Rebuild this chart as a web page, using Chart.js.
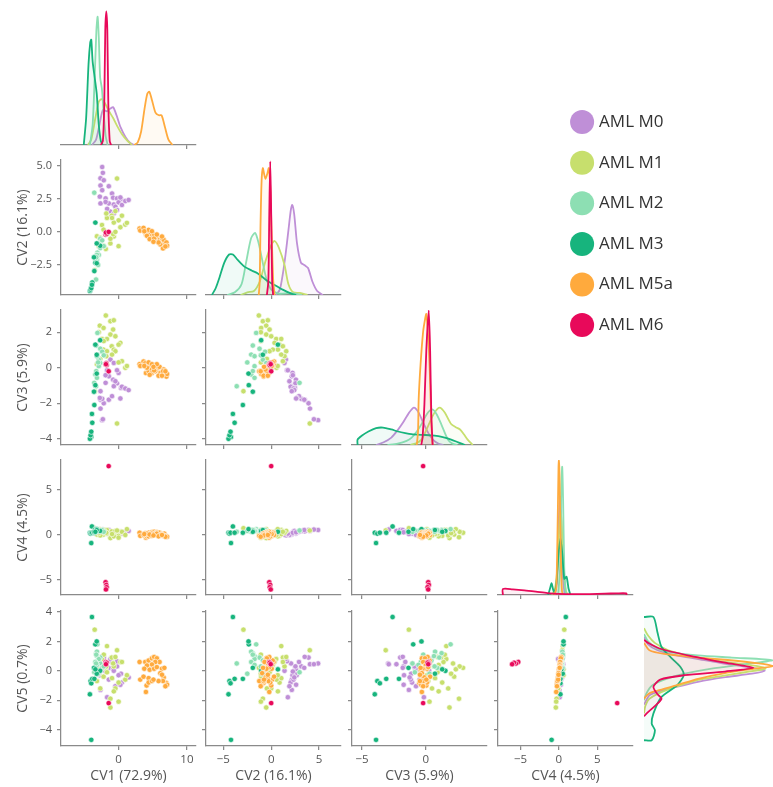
<!DOCTYPE html>
<html>
<head>
<meta charset="utf-8">
<script src="https://cdn.jsdelivr.net/npm/chart.js@4"></script>
<style>
  body { margin: 0; background: #fff; }
  #fig { position: relative; width: 773px; height: 787px; overflow: hidden; background: #fff; }
  #fig canvas { position: absolute; }
</style>
</head>
<body>
<div id="fig"></div>
<script>
const groups = ['AML M0', 'AML M1', 'AML M2', 'AML M3', 'AML M5a', 'AML M6'];
const colors = ['#bf8fd7', '#c7df6d', '#8ddfb3', '#17b47d', '#ffaa3d', '#e8095a'];
const varLabels = ['CV1 (72.9%)', 'CV2 (16.1%)', 'CV3 (5.9%)', 'CV4 (4.5%)', 'CV5 (0.7%)'];

// sample scores, one row per sample: [CV1, CV2, CV3, CV4, CV5]
const ptsM0 = [
  [-2.4, 4.9, -2.95, 0.5, 0.5], [-2.65, 4.05, -2.3, 0.4, 0.45], [-2.17, 3.9, -2.0, 0.5, 0.9],
  [-2.65, 3.5, -1.8, 0.35, 0.95], [-2.4, 3.15, -1.75, 0.4, 0.3], [-1.43, 3.45, -1.8, 0.5, 0.2],
  [-0.96, 2.9, -1.6, 0.3, 0.6], [-2.75, 2.66, -1.7, 0.25, -0.3], [-1.9, 2.53, -0.85, 0.3, 0.2],
  [-0.8, 2.58, -0.67, 0.1, 0.1], [-0.23, 2.53, -0.88, 0.2, 0.3], [0.35, 2.48, -1.14, 0.35, -0.2],
  [-1.43, 2.15, -0.48, 0.0, -0.6], [-0.7, 2.07, -1.04, 0.15, 0.5], [0.0, 2.23, -0.29, 0.2, -0.3],
  [0.49, 2.03, -1.07, 0.1, -0.8], [0.98, 2.33, -1.17, 0.3, -0.6], [1.47, 2.41, -1.26, 0.4, -0.45],
  [-2.65, 2.15, -1.32, 0.05, -1.3], [-0.47, 1.9, -0.76, -0.05, -1.05], [-0.23, 1.65, -0.14, 0.05, 0.65],
  [-1.2, 1.53, 0.46, -0.1, 0.8], [-0.7, 1.39, 0.27, 0.0, 0.0], [-1.68, 1.74, -0.14, 0.1, -1.8],
  [-1.9, 2.26, -0.42, 0.2, -0.05], [-2.3, 4.46, -2.9, 0.55, 0.45], [0.26, 2.6, -1.73, 0.25, -0.95]
];
const ptsM1 = [
  [-1.87, -1.29, 2.94, 0.2, 0.2], [-1.2, -0.87, 2.62, -0.3, -1.9], [-0.7, -0.35, 2.67, 0.3, 0.3],
  [-2.75, -0.52, 2.37, 0.6, 0.1], [-2.2, -1.05, 2.24, 0.0, -0.4], [-1.2, -0.52, 1.87, -0.4, -2.5],
  [-0.8, -0.17, 2.15, 0.3, 0.5], [-0.47, 0.0, 1.77, -0.1, -1.2], [-2.43, 0.52, 1.62, 0.4, 0.8],
  [-1.7, 1.05, 1.62, 0.5, 1.68], [0.26, 0.35, 1.4, 0.3, 0.6], [0.0, 0.87, 1.3, -0.15, -0.8],
  [-1.0, 1.22, 1.21, 0.35, 0.9], [-0.7, 0.7, 1.02, -0.2, -1.4], [-2.2, 0.17, 1.02, 0.25, 0.4],
  [-1.7, -0.17, 0.93, 0.1, -0.1], [-0.47, 1.57, 0.93, 0.4, 0.94], [-1.8, 1.39, 0.65, 0.2, 0.3],
  [-0.96, 1.05, 0.74, 0.05, -0.5], [0.49, 1.22, 0.37, 0.3, 0.6], [0.98, 0.55, 0.0, -0.05, -0.6],
  [1.22, 0.68, 0.1, 0.6, -0.3], [-3.5, -2.9, -1.32, 0.7, 2.8], [-0.23, 4.03, -3.14, 0.45, 1.4],
  [-3.17, -0.33, 0.2, 0.0, -0.7], [-2.68, -0.45, 0.5, -0.1, -1.2], [0.0, -1.08, 0.3, -0.35, -2.1],
  [-2.17, -1.08, 1.5, 0.5, 1.1], [-2.9, -1.08, 2.0, 0.15, -0.2]
];
const ptsM2 = [
  [-3.1, -1.57, 1.96, 0.6, 1.8], [-3.27, -1.92, 1.25, 0.5, 1.2], [-2.68, -1.22, 1.07, 0.4, 0.9],
  [-3.17, -2.09, 0.74, 0.45, 1.3], [-2.9, -0.87, 0.45, 0.35, 0.7], [-2.68, -0.52, 0.26, 0.4, 0.5],
  [-3.17, -1.74, 0.65, 0.5, 1.0], [-2.9, -1.74, 0.09, 0.45, 0.8], [-3.4, -2.09, -0.38, 0.3, 0.6],
  [-3.17, -1.74, -0.57, 0.4, 0.4], [-3.27, -1.92, -0.19, 0.5, 1.1], [-3.56, 2.96, -0.85, 0.45, -0.1],
  [-3.3, -3.6, -1.04, 0.3, 0.5], [-2.4, -0.64, 0.9, 0.5, 0.2], [-2.17, -1.08, 0.7, 0.3, 0.3],
  [-3.0, -2.5, 0.3, 0.4, -0.2]
];
const ptsM3 = [
  [-4.0, -4.2, -3.9, -0.95, -4.7], [-4.2, -4.46, -4.0, 0.2, -1.6], [-4.1, -4.36, -3.8, 0.1, -0.7],
  [-4.0, -4.25, -3.6, 0.2, -0.85], [-3.85, -3.82, -3.1, 0.2, -0.55], [-3.9, -4.0, -2.6, 0.9, 3.66],
  [-3.55, -2.96, -2.1, 0.2, -0.55], [-3.6, -1.92, -1.35, 0.3, 0.2], [-3.4, -2.34, -0.98, 0.6, 1.8],
  [-3.2, -2.37, -0.33, 0.6, 2.0], [-2.7, -1.05, 1.55, 0.4, 0.0], [-3.2, -0.87, 0.73, 0.5, -0.2],
  [-3.4, 0.7, 1.3, 0.3, 0.1]
];
const ptsM5a = [
  [3.07, 0.25, 0.2, 0.2, 0.6], [3.17, 0.1, 0.1, -0.15, -0.6], [4.0, -0.2, -0.3, -0.35, -1.44],
  [4.1, 0.0, 0.05, -0.2, -1.0], [3.65, 0.3, 0.35, -0.05, -0.4], [4.4, -0.35, -0.2, -0.1, -0.5],
  [4.4, -0.1, 0.1, -0.2, -0.8], [4.88, -0.3, -0.1, -0.15, -0.7], [3.9, -0.05, 0.25, 0.15, 0.6],
  [4.4, 0.15, 0.3, 0.2, 0.7], [4.88, -0.5, -0.3, 0.25, 0.85], [5.2, -0.2, 0.15, 0.3, 0.94],
  [5.6, -0.45, -0.05, 0.25, 0.85], [6.0, -0.6, 0.05, 0.2, 0.6], [5.37, -0.7, -0.2, 0.15, 0.6],
  [4.88, 0.05, 0.2, 0.1, 0.43], [4.15, -0.3, 0.0, 0.1, 0.36], [3.76, 0.05, 0.1, 0.05, 0.14],
  [4.55, -0.55, -0.4, 0.0, 0.07], [5.2, -0.5, -0.15, 0.05, 0.14], [5.6, -0.2, 0.2, 0.1, 0.25],
  [6.35, -0.5, -0.25, 0.05, 0.14], [6.7, -0.85, -0.4, 0.1, 0.2], [6.1, -0.95, -0.3, -0.05, -0.16],
  [6.6, -0.6, -0.1, -0.1, -0.45], [7.0, -0.8, -0.5, -0.2, -0.83], [7.1, -1.05, -0.35, -0.25, -0.95],
  [6.5, -1.25, -0.2, -0.15, -0.7], [5.85, -0.8, -0.45, -0.2, -0.7], [5.1, -0.75, 0.05, -0.1, -0.6],
  [6.85, -1.1, -0.2, -0.25, -1.05], [6.35, -0.35, -0.45, -0.05, -0.27]
];
const ptsM6 = [
  [-1.9, -0.2, 0.2, -5.3, 0.6], [-1.8, -0.1, 0.25, -5.6, 0.5], [-1.75, -0.15, 0.15, -5.85, 0.55],
  [-1.85, -0.05, 0.2, -6.1, 0.45], [-1.45, 0.0, -0.2, 7.6, -2.2]
];
const points = [ptsM0, ptsM1, ptsM2, ptsM3, ptsM5a, ptsM6];

// density curves: [value, height as share of the panel]
const kdeCV1 = [
  [[-3.9, 0], [-3.3, 0.04], [-2.8, 0.15], [-2.3, 0.26], [-1.7, 0.25], [-1.2, 0.27], [-0.8, 0.28], [-0.3, 0.22], [0.3, 0.13], [1.0, 0.06], [1.7, 0.015], [2.3, 0]],
  [[-4.5, 0], [-4.0, 0.04], [-3.4, 0.2], [-2.9, 0.32], [-2.5, 0.34], [-2.0, 0.31], [-1.4, 0.25], [-0.8, 0.2], [-0.2, 0.14], [0.5, 0.08], [1.3, 0.03], [2.0, 0]],
  [[-4.2, 0], [-3.8, 0.15], [-3.5, 0.5], [-3.25, 0.85], [-3.07, 0.95], [-2.9, 0.8], [-2.7, 0.5], [-2.45, 0.42], [-2.2, 0.25], [-1.9, 0.07], [-1.6, 0]],
  [[-5.1, 0], [-4.75, 0.2], [-4.4, 0.6], [-4.15, 0.76], [-4.0, 0.78], [-3.8, 0.62], [-3.5, 0.5], [-3.2, 0.38], [-2.9, 0.15], [-2.6, 0.03], [-2.3, 0]],
  [[2.3, 0], [2.8, 0.02], [3.3, 0.1], [3.8, 0.27], [4.2, 0.38], [4.5, 0.395], [4.9, 0.33], [5.4, 0.24], [5.9, 0.22], [6.3, 0.22], [6.8, 0.13], [7.3, 0.04], [7.9, 0]],
  [[-2.6, 0], [-2.3, 0.03], [-2.1, 0.3], [-1.95, 0.85], [-1.8, 0.99], [-1.65, 0.85], [-1.5, 0.3], [-1.3, 0.03], [-1.1, 0]]
];
const kdeCV2 = [
  [[0.5, 0], [0.9, 0.04], [1.2, 0.15], [1.5, 0.3], [1.8, 0.48], [2.05, 0.63], [2.2, 0.667], [2.4, 0.6], [2.7, 0.38], [3.1, 0.24], [3.5, 0.22], [3.85, 0.2], [4.3, 0.1], [4.8, 0.03], [5.4, 0]],
  [[-3.2, 0], [-2.5, 0.02], [-1.8, 0.03], [-1.2, 0.1], [-0.6, 0.25], [0.0, 0.37], [0.35, 0.4], [0.8, 0.35], [1.4, 0.22], [1.8, 0.08], [2.3, 0.02], [3.0, 0.015], [3.8, 0]],
  [[-4.6, 0], [-3.8, 0.02], [-3.1, 0.08], [-2.6, 0.25], [-2.1, 0.42], [-1.67, 0.46], [-1.3, 0.38], [-1.0, 0.28], [-0.5, 0.12], [0.0, 0.04], [0.8, 0.01], [2.0, 0.015], [3.2, 0]],
  [[-6.2, 0], [-5.8, 0.05], [-5.4, 0.13], [-4.9, 0.24], [-4.4, 0.3], [-4.0, 0.3], [-3.5, 0.26], [-2.8, 0.21], [-2.0, 0.18], [-1.4, 0.16], [-0.5, 0.11], [0.35, 0.074], [1.2, 0.04], [2.1, 0.01], [2.6, 0]],
  [[-1.3, 0], [-1.2, 0.1], [-1.12, 0.5], [-1.0, 0.85], [-0.87, 0.94], [-0.75, 0.9], [-0.6, 0.86], [-0.4, 0.9], [-0.25, 0.94], [-0.1, 0.8], [0.05, 0.45], [0.2, 0.12], [0.35, 0]],
  [[-0.45, 0], [-0.3, 0.1], [-0.2, 0.6], [-0.1, 0.99], [0.0, 0.6], [0.1, 0.1], [0.2, 0]]
];
const kdeCV3 = [
  [[-3.9, 0], [-3.3, 0.02], [-2.7, 0.055], [-2.2, 0.11], [-1.78, 0.166], [-1.3, 0.24], [-0.92, 0.277], [-0.55, 0.24], [-0.2, 0.166], [0.2, 0.09], [0.57, 0.04], [1.0, 0.01], [1.4, 0]],
  [[-1.2, 0], [-0.7, 0.015], [-0.34, 0.04], [0.0, 0.1], [0.31, 0.166], [0.7, 0.24], [1.1, 0.277], [1.5, 0.24], [2.0, 0.155], [2.4, 0.13], [2.7, 0.115], [3.0, 0.08], [3.3, 0.04], [3.7, 0]],
  [[-3.0, 0], [-2.2, 0.01], [-1.5, 0.03], [-1.1, 0.055], [-0.7, 0.1], [-0.34, 0.153], [0.1, 0.23], [0.5, 0.264], [0.85, 0.23], [1.23, 0.153], [1.75, 0.04], [2.1, 0.01], [2.5, 0]],
  [[-5.35, 0], [-5.35, 0.04], [-5.0, 0.07], [-4.5, 0.1], [-3.9, 0.125], [-3.35, 0.129], [-2.7, 0.115], [-2.17, 0.1], [-1.6, 0.088], [-1.12, 0.08], [-0.3, 0.075], [0.45, 0.072], [1.0, 0.065], [1.5, 0.055], [2.0, 0.04], [2.55, 0.02], [3.1, 0]],
  [[-0.7, 0], [-0.6, 0.1], [-0.55, 0.34], [-0.4, 0.6], [-0.2, 0.84], [-0.05, 0.93], [0.05, 0.97], [0.2, 0.8], [0.31, 0.58], [0.42, 0.25], [0.5, 0.05], [0.55, 0]],
  [[-0.35, 0], [-0.25, 0.05], [-0.1, 0.3], [0.05, 0.7], [0.24, 0.998], [0.35, 0.7], [0.45, 0.2], [0.55, 0]]
];
const kdeCV4 = [
  [[-0.5, 0], [-0.25, 0.1], [-0.05, 0.5], [0.15, 0.73], [0.3, 0.55], [0.5, 0.15], [0.75, 0]],
  [[-0.9, 0], [-0.5, 0.05], [-0.2, 0.2], [0.05, 0.5], [0.2, 0.62], [0.35, 0.55], [0.6, 0.2], [0.9, 0.03], [1.2, 0]],
  [[-0.1, 0], [0.15, 0.2], [0.3, 0.75], [0.43, 0.95], [0.55, 0.7], [0.7, 0.2], [0.9, 0]],
  [[-1.4, 0], [-1.15, 0.05], [-0.95, 0.087], [-0.75, 0.04], [-0.55, 0.02], [-0.3, 0.1], [-0.05, 0.3], [0.2, 0.42], [0.45, 0.3], [0.7, 0.12], [1.0, 0.135], [1.25, 0.05], [1.5, 0]],
  [[-0.6, 0], [-0.35, 0.05], [-0.2, 0.4], [-0.05, 0.95], [0.0, 0.995], [0.1, 0.85], [0.25, 0.3], [0.4, 0.03], [0.55, 0]],
  [[-7.3, 0], [-7.3, 0.045], [-6.0, 0.042], [-4.5, 0.035], [-3.0, 0.025], [-1.5, 0.014], [0.0, 0.008], [2.0, 0.006], [4.0, 0.007], [6.0, 0.01], [7.5, 0.012], [8.8, 0.012], [8.8, 0]]
];
const kdeCV5 = [
  [[2.3, 0], [1.8, 0.03], [1.4, 0.1], [1.05, 0.24], [0.8, 0.4], [0.49, 0.59], [0.2, 0.8], [0.0, 0.896], [-0.2, 0.8], [-0.45, 0.59], [-0.75, 0.4], [-1.1, 0.24], [-1.45, 0.1], [-1.67, 0.04], [-2.3, 0]],
  [[2.9, 0], [2.4, 0.03], [1.9, 0.08], [1.4, 0.18], [1.0, 0.35], [0.6, 0.6], [0.3, 0.85], [0.15, 0.9], [-0.1, 0.75], [-0.4, 0.55], [-0.62, 0.4], [-1.3, 0.17], [-1.9, 0.04], [-2.4, 0.01], [-2.9, 0]],
  [[2.5, 0], [2.0, 0.03], [1.5, 0.1], [1.25, 0.2], [1.05, 0.4], [0.9, 0.65], [0.72, 0.95], [0.45, 0.75], [0.15, 0.5], [-0.2, 0.3], [-0.6, 0.15], [-1.0, 0.06], [-1.5, 0.02], [-2.0, 0]],
  [[3.66, 0], [3.66, 0.07], [2.6, 0.1], [1.62, 0.13], [0.9, 0.2], [0.26, 0.27], [-0.31, 0.294], [-0.99, 0.245], [-1.78, 0.13], [-2.9, 0.07], [-3.6, 0.057], [-4.05, 0.081], [-4.73, 0.057], [-4.73, 0]],
  [[1.9, 0], [1.4, 0.04], [1.15, 0.15], [0.95, 0.35], [0.75, 0.6], [0.5, 0.85], [0.32, 0.953], [0.12, 0.8], [-0.17, 0.59], [-0.55, 0.4], [-0.99, 0.24], [-1.35, 0.1], [-1.56, 0.035], [-1.9, 0]],
  [[2.1, 0], [1.9, 0.03], [1.5, 0.12], [1.0, 0.35], [0.55, 0.6], [0.2, 0.81], [-0.05, 0.6], [-0.3, 0.3], [-0.6, 0.12], [-1.1, 0.07], [-1.6, 0.1], [-1.9, 0.13], [-2.4, 0.08], [-2.9, 0.02], [-3.1, 0]]
];
const kdes = [kdeCV1, kdeCV2, kdeCV3, kdeCV4, kdeCV5];

const xTicks = [[0, 10], [-5, 0, 5], [-5, 0], [-5, 0, 5]];
const yTicks = [[], [-2.5, 0, 2.5, 5], [-4, -2, 0, 2], [-5, 0, 5], [-4, -2, 0, 2, 4]];
const xLimits = [[-8.43, 11.33], [-6.81, 7.29], [-5.79, 4.82], [-7.94, 9.66]];
const yLimits = [null, [-4.77, 5.43], [-4.35, 3.25], [-6.72, 8.28], [-5.12, 4.07]];

Chart.defaults.font.family = "'Open Sans', 'Noto Sans', sans-serif";
Chart.defaults.color = '#555';

const fig = document.getElementById('fig');
const lefts = [61, 206, 352, 498, 644];
const tops = [10, 160, 310, 460, 611];
const size = 135;
const axisGrey = '#8a8a8a';

function fmtTick(v, dec) {
  return (v < 0 ? '\u2212' : '') + Math.abs(v).toFixed(dec);
}

function addCanvas(x, y, w, h) {
  const c = document.createElement('canvas');
  c.width = w;
  c.height = h;
  c.style.left = x + 'px';
  c.style.top = y + 'px';
  c.style.width = w + 'px';
  c.style.height = h + 'px';
  fig.appendChild(c);
  return c;
}

// visible axis: spine + outward ticks, labels only on the outer edge
function axisScale(min, max, ticks, dec, showLabels, title, isX, fitSize) {
  return {
    type: 'linear',
    min: min,
    max: max,
    bounds: 'data',
    afterFit: s => { if (isX) s.height = fitSize; else s.width = fitSize; },
    afterBuildTicks: s => { s.ticks = ticks.map(v => ({ value: v })); },
    border: { display: true, color: axisGrey, width: 1.25 },
    grid: { display: true, drawOnChartArea: false, drawTicks: true, tickLength: 4, color: axisGrey, lineWidth: 1.25 },
    ticks: {
      display: showLabels, autoSkip: false, maxRotation: 0, padding: isX ? 3 : 5,
      font: { size: isX ? 11.5 : 11 }, color: '#555',
      callback: v => fmtTick(v, dec)
    },
    title: {
      display: showLabels, text: title, color: '#555', font: { size: 14 },
      padding: isX ? { top: 0, bottom: 3 } : { top: 15, bottom: 0 }
    }
  };
}

function hiddenScale(min, max, isX, fitSize) {
  return {
    type: 'linear',
    min: min,
    max: max,
    afterFit: s => { if (isX) s.height = fitSize; else s.width = fitSize; },
    border: { display: false },
    grid: { display: false },
    ticks: { display: false }
  };
}

function panel(r, c) {
  const isDiag = r === c;
  const labelsY = c === 0 && r > 0;
  const labelsX = r === 4 && c < 4;
  const padL = c === 0 ? lefts[0] : 12;
  const padT = 14, padR = 10;
  const padB = labelsX ? 787 - (tops[4] + size) : 14;
  const canvas = addCanvas(lefts[c] - padL, tops[r] - padT, size + padL + padR, size + padT + padB);

  let xScale, yScale, datasets, type;
  if (isDiag) {
    type = 'line';
    if (r < 4) {
      xScale = axisScale(xLimits[c][0], xLimits[c][1], xTicks[c], 0, false, varLabels[c], true, padB);
      yScale = hiddenScale(0, 1, false, padL);
    } else {
      xScale = hiddenScale(0, 1, true, padB);
      yScale = hiddenScale(yLimits[4][0], yLimits[4][1], false, padL);
    }
    datasets = kdes[r].map((curve, g) => ({
      label: groups[g],
      data: curve.map(([v, d]) => r < 4 ? { x: v, y: d } : { x: d, y: v }),
      borderColor: colors[g],
      backgroundColor: colors[g] + (r < 4 ? '10' : '0b'),
      borderWidth: 1.8,
      pointRadius: 0,
      tension: 0.25,
      fill: r < 4 ? 'origin' : 'shape',
      order: groups.length - g
    }));
  } else {
    type = 'scatter';
    xScale = axisScale(xLimits[c][0], xLimits[c][1], xTicks[c], 0, labelsX, varLabels[c], true, padB);
    yScale = axisScale(yLimits[r][0], yLimits[r][1], yTicks[r], r === 1 ? 1 : 0, labelsY, varLabels[r], false, padL);
    datasets = points.map((pts, g) => ({
      label: groups[g],
      data: pts.map(p => ({ x: p[c], y: p[r] })),
      backgroundColor: colors[g],
      borderColor: '#ffffff',
      borderWidth: 0.6,
      pointRadius: 2.7,
      order: groups.length - g
    }));
  }

  new Chart(canvas, {
    type: type,
    data: { datasets: datasets },
    options: {
      responsive: false,
      animation: false,
      devicePixelRatio: 1,
      events: [],
      layout: { padding: { top: padT, right: padR, left: 0, bottom: 0 } },
      scales: { x: xScale, y: yScale },
      plugins: { legend: { display: false }, tooltip: { enabled: false } }
    }
  });
}

for (let r = 0; r < 5; r++) {
  for (let c = 0; c <= r; c++) panel(r, c);
}

// legend
const legCanvas = addCanvas(550, 90, 500, 300);
new Chart(legCanvas, {
  type: 'scatter',
  data: {
    datasets: groups.map((g, i) => ({
      label: g, data: [], backgroundColor: colors[i], borderColor: colors[i], borderWidth: 0, pointStyle: 'circle'
    }))
  },
  options: {
    responsive: false,
    animation: false,
    devicePixelRatio: 1,
    events: [],
    scales: { x: { display: false }, y: { display: false } },
    plugins: {
      tooltip: { enabled: false },
      legend: {
        display: true, position: 'left', align: 'start',
        labels: { usePointStyle: true, padding: 23.6, color: '#333', font: { size: 17 } }
      }
    }
  }
});
</script>
</body>
</html>
